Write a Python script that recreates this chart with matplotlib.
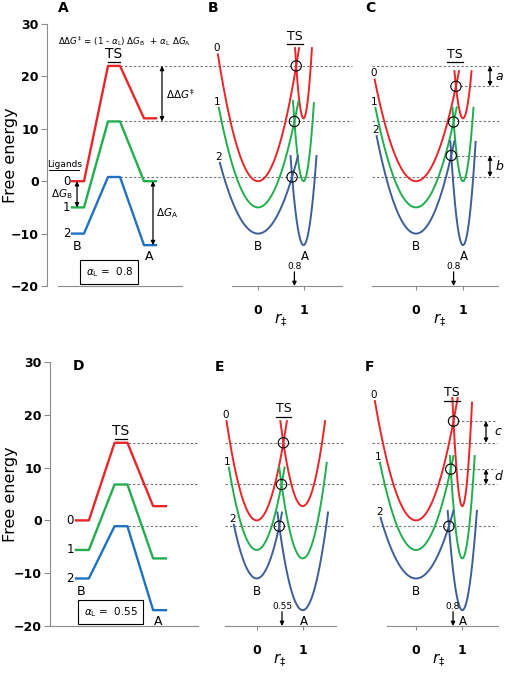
import matplotlib.pyplot as plt
import numpy as np

W, H = 505, 673

ligands = ['0', '1', '2']
step_colors = ['#e8262a', '#22ad4e', '#1f72c2']
well_colors = ['#e8262a', '#22ad4e', '#3d5e98']

# Energy levels (B state, transition state, A state) for ligands 0, 1, 2
gB_top = [0, -5, -10]
gTS_top = [22, 11.4, 0.8]
gA_top = [12, 0, -12.2]

gB_bot = [0, -5.6, -11]
gTS_bot = [14.7, 6.8, -1.1]
gA_bot = [2.7, -7.2, -17]

step_x = [0, 1, 3, 4, 6, 7]

# Crossing points of the two wells (position, free energy)
rB, gxB = [0.84, 0.80, 0.75], gTS_top
rC, gxC = [0.85, 0.80, 0.75], [18.1, 11.3, 4.9]
rE, gxE = [0.58, 0.54, 0.49], gTS_bot
rF, gxF = [0.81, 0.75, 0.71], [18.8, 9.7, -1.1]

# Curve ends: left end of B well, ends near TS, right end of A well
left_B, ts_B, right_B = [24.2, 14.0, 3.5], [25.4, 15.3, 4.8], [25.4, 14.9, 4.8]
left_C, ts_C, right_C = [19.4, 14.0, 8.6], [21.0, 14.1, 7.6], [21.0, 14.0, 7.5]
left_E, ts_E, right_E = [18.8, 10.0, -0.8], [18.8, 10.0, 1.5], [18.8, 10.9, 1.5]
left_F, ts_F, right_F = [22.6, 10.9, 0.5], [23.2, 12.2, 1.8], [22.3, 12.2, 1.8]

alpha_top, alpha_bot = 0.8, 0.55

GRAY = '#8c8c8c'
fig = plt.figure(figsize=(W / 100, H / 100), dpi=100)


def rect(x0, x1, ytop, ybot):
    return [x0 / W, 1 - ybot / H, (x1 - x0) / W, (ybot - ytop) / H]


def px_lim(left, right, zero, one):
    s = one - zero
    return ((left - zero) / s, (right - zero) / s)


rows = {1: (24, 286), 2: (362, 626)}


def overlay(row):
    ax = fig.add_axes(rect(0, W, *rows[row]), zorder=0)
    ax.set_xlim(0, W)
    ax.set_ylim(-20, 30)
    ax.axis('off')
    return ax


def dash(ax, y, x0, x1):
    ax.plot([x0, x1], [y, y], color='#777777', lw=0.8, ls=(0, (2.2, 1.8)))


def darrow(ax, x, y0, y1):
    ax.annotate('', xy=(x, y1), xytext=(x, y0),
                arrowprops=dict(arrowstyle='<|-|>', color='black', lw=0.9,
                                mutation_scale=6, shrinkA=0, shrinkB=0),
                annotation_clip=False)


def step_panel(row, x0, x1, zero, seven, gB, gTS, gA, alpha, bounds=None):
    ax = fig.add_axes(rect(x0, x1, *rows[row]), zorder=2)
    ax.patch.set_visible(False)
    ax.set_xlim(*px_lim(x0, x1, zero, zero + (seven - zero) / 7))
    ax.set_ylim(-20, 30)
    for s in ['top', 'right']:
        ax.spines[s].set_visible(False)
    for s in ['left', 'bottom']:
        ax.spines[s].set_color(GRAY)
    if bounds:
        ax.spines['bottom'].set_bounds(*bounds)
    ax.set_xticks([])
    ax.set_yticks(range(-20, 31, 10))
    ax.tick_params(axis='y', color=GRAY, length=4, pad=2)
    for t in ax.get_yticklabels():
        t.set_fontweight('bold')
        t.set_fontsize(9)
    ax.set_ylabel('Free energy', fontsize=11.5)
    ax.yaxis.set_label_coords((18 - x0) / (x1 - x0), 0.5)
    for i in range(3):
        y = [gB[i], gB[i], gTS[i], gTS[i], gA[i], gA[i]]
        ax.plot(step_x, y, color=step_colors[i], lw=1.7, clip_on=False)
        ax.text(-0.15, gB[i], ligands[i], ha='right', va='center', fontsize=8.5)
    ax.text(0.4, gB[2] - 1.3, 'B', ha='center', va='top', fontsize=9)
    ax.text(6.4, gA[2] - 0.9, 'A', ha='center', va='top', fontsize=9)
    ax.text(3.5, gTS[0] + 1.0, 'TS', ha='center', va='bottom', fontsize=10)
    ax.plot([3.0, 4.0], [gTS[0] + 0.8] * 2, color='black', lw=0.9)
    ax.text(3.1 if alpha == 0.8 else 2.7, -17.3,
            r'$\alpha_{\rm L}$ =  ' + str(alpha), ha='center', va='center',
            fontsize=7.5,
            bbox=dict(boxstyle='square,pad=0.5', fc='white', ec='black', lw=0.8))
    return ax


def well_panel(row, x0, x1, zero, one, gB, gA, rx, gx, lt, tt, rt, alpha,
               ts_y, ts_x):
    ax = fig.add_axes(rect(x0, x1, *rows[row]), zorder=2)
    ax.patch.set_visible(False)
    ax.set_xlim(*px_lim(x0, x1, zero, one))
    ax.set_ylim(-20, 30)
    for s in ['top', 'right', 'left']:
        ax.spines[s].set_visible(False)
    ax.spines['bottom'].set_color(GRAY)
    ax.set_yticks([])
    ax.set_xticks([0, 1])
    ax.tick_params(axis='x', color=GRAY, length=3, pad=10)
    for t in ax.get_xticklabels():
        t.set_fontweight('bold')
        t.set_fontsize(9)
    for i in range(3):
        kB = (gx[i] - gB[i]) / rx[i] ** 2
        kA = (gx[i] - gA[i]) / (1 - rx[i]) ** 2
        r1 = np.linspace(-np.sqrt((lt[i] - gB[i]) / kB),
                         np.sqrt((tt[i] - gB[i]) / kB), 200)
        r2 = np.linspace(1 - np.sqrt((tt[i] - gA[i]) / kA),
                         1 + np.sqrt((rt[i] - gA[i]) / kA), 200)
        ax.plot(r1, gB[i] + kB * r1 ** 2, color=well_colors[i], lw=1.4,
                clip_on=False)
        ax.plot(r2, gA[i] + kA * (r2 - 1) ** 2, color=well_colors[i], lw=1.4,
                clip_on=False)
        ax.scatter([rx[i]], [gx[i]], s=55, facecolors='none',
                   edgecolors='black', linewidths=0.8, zorder=5, clip_on=False)
        ax.text(r1[0] - 0.03, lt[i] + 0.2, ligands[i], ha='center',
                va='bottom', fontsize=7.5)
    ax.text(0, gB[2] - 1.3, 'B', ha='center', va='top', fontsize=8.5)
    ax.text(1.02, gA[2] - 0.9, 'A', ha='center', va='top', fontsize=8.5)
    ax.text(ts_x, ts_y + 0.3, 'TS', ha='center', va='bottom', fontsize=9)
    ax.plot([ts_x - 0.17, ts_x + 0.17], [ts_y, ts_y], color='black', lw=0.9,
            clip_on=False)
    ax.annotate('', xy=(alpha, -20), xytext=(alpha, -17.3),
                arrowprops=dict(arrowstyle='-|>', color='black', lw=0.9,
                                mutation_scale=6, shrinkA=0, shrinkB=0),
                annotation_clip=False)
    ax.text(alpha, -17.1, str(alpha), ha='center', va='bottom', fontsize=6.5)
    ax.text(0.5, -26.4, r'$r_{\ddagger}$', ha='center', va='center',
            fontsize=11, clip_on=False)
    return ax


# ---- row 1 ----
ov1 = overlay(1)
for g in gTS_top:
    dash(ov1, g, 120, 352)
    dash(ov1, g, 372, 500)
dash(ov1, gxC[0], 460, 498)
dash(ov1, gxC[2], 457, 498)
darrow(ov1, 490, gTS_top[0], gxC[0])
darrow(ov1, 490, gxC[2], gTS_top[2])
ov1.text(499, (gTS_top[0] + gxC[0]) / 2, 'a', style='italic', fontsize=9,
         ha='center', va='center')
ov1.text(499, (gTS_top[2] + gxC[2]) / 2, 'b', style='italic', fontsize=9,
         ha='center', va='center')

axA = step_panel(1, 47, 182, 72, 156, gB_top, gTS_top, gA_top, alpha_top,
                 bounds=(-1.2, 9.2))
axA.text(-0.65, 2.3, 'Ligands', ha='center', va='bottom', fontsize=6.5)
axA.plot([-1.9, 0.6], [2.1, 2.1], color='black', lw=0.7, clip_on=False)
darrow(axA, 0.42, gB_top[0], gB_top[1])
axA.text(0.05, (gB_top[0] + gB_top[1]) / 2, r'$\Delta G_{\rm B}$', ha='right',
         va='center', fontsize=7.5)
darrow(axA, 6.75, gA_top[1], gA_top[2])
axA.text(7.0, (gA_top[1] + gA_top[2]) / 2, r'$\Delta G_{\rm A}$', ha='left',
         va='center', fontsize=7.5)
darrow(axA, 7.5, gTS_top[0], gTS_top[1])
axA.text(7.85, (gTS_top[0] + gTS_top[1]) / 2, r'$\Delta\Delta G^{\ddagger}$',
         ha='left', va='center', fontsize=7.5)
axA.text(4.4, 26.7, r'$\Delta\Delta G^{\ddagger}$ = (1 - $\alpha_{\rm L}$) '
         r'$\Delta G_{\rm B}$  + $\alpha_{\rm L}$ $\Delta G_{\rm A}$',
         ha='center', va='center', fontsize=6.3)

well_panel(1, 232, 342, 258, 303.5, gB_top, gA_top, rB, gxB, left_B, ts_B,
           right_B, alpha_top, 26.1, 0.81)
well_panel(1, 372, 498, 416, 463, gB_top, gA_top, rC, gxC, left_C, ts_C,
           right_C, alpha_top, 22.7, 0.83)

# ---- row 2 ----
ov2 = overlay(2)
for g in gTS_bot:
    dash(ov2, g, 128, 198)
    dash(ov2, g, 225, 343)
    dash(ov2, g, 372, 497)
dash(ov2, gxF[0], 457, 496)
dash(ov2, gxF[1], 455, 496)
darrow(ov2, 486, gxF[0], gTS_bot[0])
darrow(ov2, 486, gxF[1], gTS_bot[1])
ov2.text(498, (gTS_bot[0] + gxF[0]) / 2, 'c', style='italic', fontsize=9,
         ha='center', va='center')
ov2.text(498, (gTS_bot[1] + gxF[1]) / 2, 'd', style='italic', fontsize=9,
         ha='center', va='center')

step_panel(2, 50, 198, 76, 166, gB_bot, gTS_bot, gA_bot, alpha_bot)
well_panel(2, 225, 336, 256.7, 302.7, gB_bot, gA_bot, rE, gxE, left_E, ts_E,
           right_E, alpha_bot, 19.6, 0.58)
well_panel(2, 387, 498, 416, 462.3, gB_bot, gA_bot, rF, gxF, left_F, ts_F,
           right_F, alpha_top, 22.7, 0.77)

for lab, x, y in [('A', 63, 8), ('B', 213, 8), ('C', 370, 8),
                  ('D', 78, 366), ('E', 219, 367), ('F', 370, 367)]:
    fig.text(x / W, 1 - y / H, lab, ha='center', va='center', fontsize=10,
             fontweight='bold')

fig.savefig('out.png', dpi=100)
